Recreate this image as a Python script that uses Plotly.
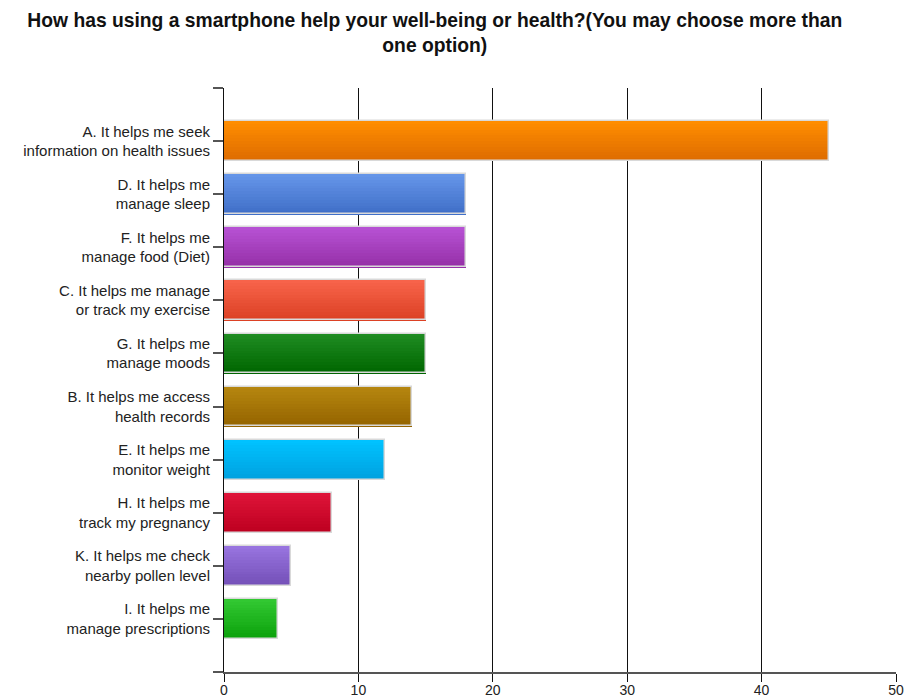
import plotly.graph_objects as go

# Survey responses (count of respondents per option)
labels = [
    "A. It helps me seek<br>information on health issues",
    "D. It helps me<br>manage sleep",
    "F. It helps me<br>manage food (Diet)",
    "C. It helps me manage<br>or track my exercise",
    "G. It helps me<br>manage moods",
    "B. It helps me access<br>health records",
    "E. It helps me<br>monitor weight",
    "H. It helps me<br>track my pregnancy",
    "K. It helps me check<br>nearby pollen level",
    "I. It helps me<br>manage prescriptions",
]
counts = [45, 18, 18, 15, 15, 14, 12, 8, 5, 4]
x_ticks = [0, 10, 20, 30, 40, 50]

# Gradient end colours (top, bottom) for each bar
top_colors = ["#ff8d00", "#6595e8", "#b651d3", "#f7634a", "#1f8c22",
              "#b5860f", "#00c2ff", "#de1439", "#9874df", "#32c832"]
bottom_colors = ["#de6c00", "#406fc8", "#9630a8", "#dc4124", "#006600",
                 "#956400", "#00a2e0", "#be0020", "#7450b8", "#0ca20c"]

positions = list(range(len(labels)))
bar_w = 0.75
n_strips = 14
strip = bar_w / n_strips


def hex_to_rgb(h):
    h = h.lstrip("#")
    return tuple(int(h[i:i + 2], 16) for i in (0, 2, 4))


def mix(c1, c2, t):
    a, b = hex_to_rgb(c1), hex_to_rgb(c2)
    return "rgb(%d,%d,%d)" % tuple(round(a[i] + (b[i] - a[i]) * t) for i in range(3))


fig = go.Figure()

# Each bar is painted as thin horizontal strips to give a vertical gradient
for k in range(n_strips):
    t = k / (n_strips - 1)
    fig.add_trace(go.Bar(
        x=counts,
        y=positions,
        orientation="h",
        width=strip * 1.15,
        offset=-bar_w / 2 + k * strip,
        marker=dict(color=[mix(tc, bc, t) for tc, bc in zip(top_colors, bottom_colors)],
                    line=dict(width=0)),
        hoverinfo="skip",
        showlegend=False,
    ))

# Light outline around each bar
fig.add_trace(go.Bar(
    x=counts,
    y=positions,
    orientation="h",
    width=bar_w,
    marker=dict(color="rgba(0,0,0,0)", line=dict(color="#d9d9d9", width=1.5)),
    showlegend=False,
))

fig.update_layout(
    width=904,
    height=698,
    barmode="overlay",
    bargap=0,
    paper_bgcolor="white",
    plot_bgcolor="white",
    margin=dict(l=224, r=8, t=88, b=26, autoexpand=False),
    font=dict(family="Liberation Sans, Arial, sans-serif", size=15, color="#222222"),
    title=dict(
        text="<b>How has using a smartphone help your well-being or health?(You may choose more than<br>one option)</b>",
        x=0.481,
        xanchor="center",
        xref="container",
        yref="container",
        y=1 - 27 / 698,
        yanchor="middle",
        font=dict(family="Liberation Sans, Arial, sans-serif", size=19.3, color="#111111"),
    ),
    xaxis=dict(
        range=[0, 50],
        tickvals=x_ticks,
        ticks="outside",
        ticklen=8,
        tickcolor="#111111",
        tickfont=dict(size=14),
        ticklabelstandoff=-4,
        showgrid=True,
        gridcolor="#111111",
        gridwidth=1,
        showline=True,
        linecolor="#555555",
        linewidth=2,
        zeroline=False,
        automargin=False,
        fixedrange=True,
    ),
    yaxis=dict(
        range=[10, -1],
        tickvals=[-1] + positions + [10],
        ticktext=[""] + labels + [""],
        ticks="outside",
        ticklen=10,
        tickcolor="#555555",
        tickwidth=2,
        showgrid=False,
        showline=True,
        linecolor="#111111",
        linewidth=1,
        zeroline=False,
        automargin=False,
        fixedrange=True,
    ),
)

fig.write_html("out.html")
